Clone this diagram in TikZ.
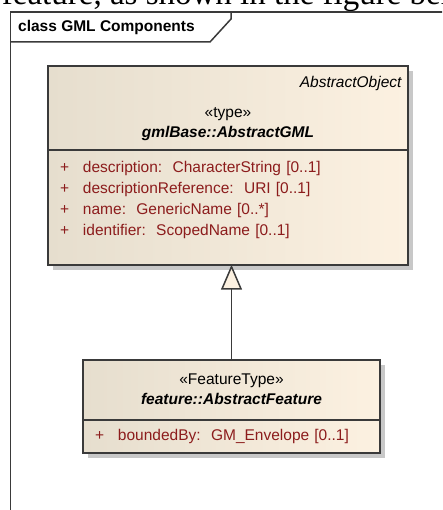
\documentclass[tikz,border=0pt]{standalone}
\usepackage{fontspec}
\setmainfont{Liberation Serif}
\setsansfont{Liberation Sans}
\usetikzlibrary{positioning,shadows,arrows.meta}
\definecolor{eabeige}{RGB}{252,241,225}
\definecolor{eatan}{RGB}{230,222,206}
\definecolor{eaborder}{RGB}{58,58,58}
\definecolor{eared}{RGB}{140,28,28}
\definecolor{eashadow}{RGB}{200,200,200}

\begin{document}
\begin{tikzpicture}
  [x=1pt, y=-1pt, font=\sffamily\fontsize{15.5}{20}\selectfont,
   cls/.style={draw=eaborder, line width=2pt, outer sep=0pt, left color=eatan, right color=eabeige,
     drop shadow={shadow xshift=5pt, shadow yshift=-5pt, fill=eashadow, opacity=1},
     inner xsep=6pt, inner ysep=0pt, align=center},
   attr/.style={cls, align=left, text=eared, inner xsep=12pt, font=\sffamily\fontsize{15.5}{21}\selectfont},
   gen/.style={-{Triangle[length=25pt, width=21pt, fill=eabeige]}, draw=eaborder, line width=1.5pt},
   frame/.style={draw=eaborder, line width=1.5pt}]
  \useasboundingbox (0,0) rectangle (442,510);
  \clip (0,0) rectangle (442,510);
  % caption line cut off above the frame
  \node[anchor=base west, inner sep=0pt, font=\rmfamily\fontsize{33}{33}\selectfont] (cap) at (-56,5) {real feature, as shown in the figure below};
  % frame and its tab
  \draw[frame] (10.5,520) -- (10.5,12) -- (450,12);
  \draw[frame] (10.5,42) -- (210,42) -- (231,19) -- (231,12);
  \node[anchor=base west, inner sep=0pt, font=\sffamily\bfseries\fontsize{15.5}{20}\selectfont] (title) at (18,32) {class GML Components};
  % AbstractGML
  \node[cls, minimum width=360pt, minimum height=84pt, text width=348pt] (gmlhead) at (228,108)
    {\hfill\textit{AbstractObject}\\[10pt] «type»\\ \textbf{\textit{gmlBase::AbstractGML}}};
  \node[attr, minimum width=360pt, text width=336pt, inner ysep=11.5pt, text depth=80.5pt, below=0pt of gmlhead] (gmlbody)
    {\makebox[23pt][l]{+}description:\ \ CharacterString [0..1]\\
     \makebox[23pt][l]{+}descriptionReference:\ \ URI [0..1]\\
     \makebox[23pt][l]{+}name:\ \ GenericName [0..*]\\
     \makebox[23pt][l]{+}identifier:\ \ ScopedName [0..1]};
  % AbstractFeature
  \node[cls, minimum width=297pt, minimum height=60pt, below=95pt of gmlbody, xshift=3.5pt] (feathead)
    {«FeatureType»\\ \textbf{\textit{feature::AbstractFeature}}};
  \node[attr, minimum width=297pt, text width=273pt, minimum height=33pt, below=0pt of feathead] (featbody)
    {\makebox[23pt][l]{+}boundedBy:\ \ GM\_Envelope [0..1]};
  \draw[gen] (feathead.north) -- (feathead.north |- gmlbody.south);
\end{tikzpicture}
\end{document}
